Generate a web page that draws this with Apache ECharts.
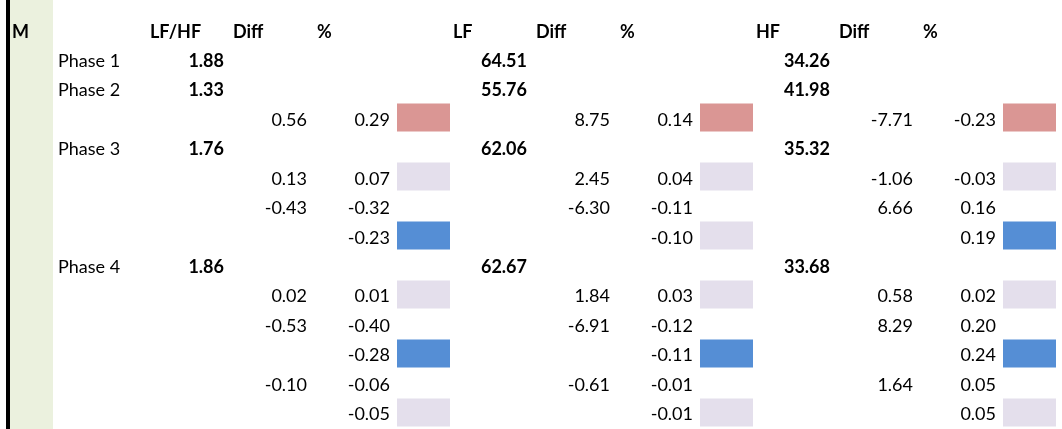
<!DOCTYPE html>
<html>
<head>
<meta charset="utf-8">
<script src="https://cdn.jsdelivr.net/npm/echarts@6/dist/echarts.min.js"></script>
<style>
html,body{margin:0;padding:0;background:#fff;}
#chart{width:1062px;height:429px;}
</style>
</head>
<body>
<div id="chart"></div>
<script>
// ---------- DATA ----------
const sheetLabel = 'M';
const metricNames = ['LF/HF', 'LF', 'HF'];
const subHeaders = ['Diff', '%'];
const rowLabels = ['Phase 1', 'Phase 2', '', 'Phase 3', '', '', '', 'Phase 4', '', '', '', '', ''];

const lfhfMain = [1.88, 1.33, null, 1.76, null, null, null, 1.86, null, null, null, null, null];
const lfhfDiff = [null, null, 0.56, null, 0.13, -0.43, null, null, 0.02, -0.53, null, -0.10, null];
const lfhfPct  = [null, null, 0.29, null, 0.07, -0.32, -0.23, null, 0.01, -0.40, -0.28, -0.06, -0.05];
const lfhfFlag = [null, null, 'hi', null, 'mid', null, 'lo', null, 'mid', null, 'lo', null, 'mid'];

const lfMain = [64.51, 55.76, null, 62.06, null, null, null, 62.67, null, null, null, null, null];
const lfDiff = [null, null, 8.75, null, 2.45, -6.30, null, null, 1.84, -6.91, null, -0.61, null];
const lfPct  = [null, null, 0.14, null, 0.04, -0.11, -0.10, null, 0.03, -0.12, -0.11, -0.01, -0.01];
const lfFlag = [null, null, 'hi', null, 'mid', null, 'mid', null, 'mid', null, 'lo', null, 'mid'];

const hfMain = [34.26, 41.98, null, 35.32, null, null, null, 33.68, null, null, null, null, null];
const hfDiff = [null, null, -7.71, null, -1.06, 6.66, null, null, 0.58, 8.29, null, 1.64, null];
const hfPct  = [null, null, -0.23, null, -0.03, 0.16, 0.19, null, 0.02, 0.20, 0.24, 0.05, 0.05];
const hfFlag = [null, null, 'hi', null, 'mid', null, 'lo', null, 'mid', null, 'lo', null, 'mid'];

// ---------- LAYOUT / STYLE ----------
const W = 1062;
const blockStarts = [145, 448, 751];
const flagColors = { hi: '#DA9694', mid: '#E4DFEC', lo: '#558ED5' };
const FONT_FAMILY = 'Lato, "Open Sans", sans-serif';
const FONT_SIZE = 18;

const blocks = [
  { name: metricNames[0], main: lfhfMain, diff: lfhfDiff, pct: lfhfPct, flag: lfhfFlag },
  { name: metricNames[1], main: lfMain, diff: lfDiff, pct: lfPct, flag: lfFlag },
  { name: metricNames[2], main: hfMain, diff: hfDiff, pct: hfPct, flag: hfFlag }
];

const nRows = rowLabels.length + 1;
const rowCats = Array.from({ length: nRows }, (_, i) => String(i));

const textItems = [];
const cellItems = [];
textItems.push({ x: 12, row: 0, text: sheetLabel, align: 'left', bold: true });
rowLabels.forEach((l, i) => { if (l) textItems.push({ x: 58, row: i + 1, text: l, align: 'left', bold: false }); });
blocks.forEach((b, k) => {
  const s = blockStarts[k];
  textItems.push({ x: s + 5, row: 0, text: b.name, align: 'left', bold: true });
  textItems.push({ x: s + 88, row: 0, text: subHeaders[0], align: 'left', bold: true });
  textItems.push({ x: s + 172, row: 0, text: subHeaders[1], align: 'left', bold: true });
  for (let i = 0; i < rowLabels.length; i++) {
    if (b.main[i] != null) textItems.push({ x: s + 79, row: i + 1, text: b.main[i].toFixed(2), align: 'right', bold: true });
    if (b.diff[i] != null) textItems.push({ x: s + 162, row: i + 1, text: b.diff[i].toFixed(2), align: 'right', bold: false });
    if (b.pct[i] != null) textItems.push({ x: s + 245, row: i + 1, text: b.pct[i].toFixed(2), align: 'right', bold: false });
    if (b.flag[i]) cellItems.push({ x1: s + 252, x2: s + 305, row: i + 1, color: flagColors[b.flag[i]] });
  }
});

const chart = echarts.init(document.getElementById('chart'), null, { renderer: 'canvas' });
chart.setOption({
  animation: false,
  backgroundColor: '#ffffff',
  grid: { left: 0, right: 0, top: 15, bottom: 2 },
  xAxis: { type: 'value', min: 0, max: W, show: false, splitLine: { show: false } },
  yAxis: { type: 'category', data: rowCats, inverse: true, show: false },
  graphic: [
    { type: 'rect', shape: { x: 10, y: 0, width: 43, height: 429 }, style: { fill: '#EBF1DE' }, z: 0 },
    { type: 'rect', shape: { x: 6, y: 0, width: 4, height: 429 }, style: { fill: '#000000' }, z: 0 }
  ],
  series: [
    {
      type: 'custom',
      z: 2,
      data: cellItems.map(c => [c.x1, c.row, c.x2]),
      encode: { x: [0, 2], y: 1 },
      renderItem: function (params, api) {
        const p1 = api.coord([api.value(0), api.value(1)]);
        const p2 = api.coord([api.value(2), api.value(1)]);
        const h = api.size([0, 1])[1];
        const c = cellItems[params.dataIndex];
        return {
          type: 'rect',
          shape: { x: Math.round(p1[0]), y: Math.round(p1[1] - h / 2) + 0.5, width: Math.round(p2[0] - p1[0]), height: Math.round(h) - 1 },
          style: { fill: c.color }
        };
      }
    },
    {
      type: 'custom',
      z: 3,
      data: textItems.map(t => [t.x, t.row]),
      encode: { x: 0, y: 1 },
      renderItem: function (params, api) {
        const p = api.coord([api.value(0), api.value(1)]);
        const t = textItems[params.dataIndex];
        return {
          type: 'text',
          x: p[0],
          y: p[1] + 2,
          style: {
            text: t.text,
            fill: '#000000',
            font: (t.bold ? 'bold ' : '') + FONT_SIZE + 'px ' + FONT_FAMILY,
            align: t.align,
            verticalAlign: 'middle',
            textAlign: t.align,
            textVerticalAlign: 'middle'
          }
        };
      }
    }
  ]
});
</script>
</body>
</html>
